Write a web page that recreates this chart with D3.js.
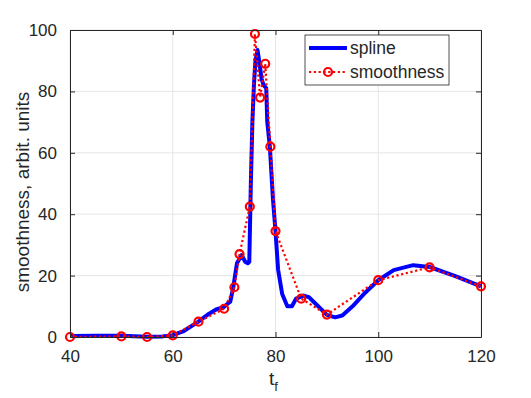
<!DOCTYPE html>
<html><head><meta charset="utf-8">
<script src="https://cdn.jsdelivr.net/npm/d3@7"></script>
<style>body{margin:0;background:#fff}svg{display:block}text{font-family:"Liberation Sans",Arial,sans-serif;fill:#262626}</style>
</head><body>
<script>
// smoothness samples
const tf = [40,50,55,60,65,70,72,73,75,76,77,78,79,80,85,90,100,110,120];
const smooth = [0,0.2,0,0.5,5,9.2,16.2,27,42.5,98.7,78,89,62,34.5,12.5,7.3,18.5,22.7,16.5];
// spline curve
const splineX = [40,45,50,55,58,60,62,65,67,68.6,69.9,70.8,71.2,71.8,72.5,73.4,74.1,74.6,74.9,75.2,75.5,75.8,76.1,76.5,76.9,77.3,77.7,78.2,78.4,78.9,79.5,80,80.5,81.3,82.3,83.2,84,85.5,86.5,88,90,91.6,93,95,97.5,100,103,106.8,110,115,120];
const splineY = [0.3,0.4,0.4,0.1,0.2,0.6,1.8,5,7.5,9.1,9.7,11,11.5,16.4,24,26.7,24.5,24,24.5,50,70,82,90,93.5,89,84,82,81,70,62,45,34.5,22,14,10,10,12.5,13.5,13,10.5,7.2,6.4,7,10,14.5,18.5,21.8,23.4,22.8,19.8,16.5];
const xTicks = [40,60,80,100,120];
const yTicks = [0,20,40,60,80,100];

const W=531,H=398;
const svg=d3.select("body").append("svg").attr("width",W).attr("height",H);
const x=d3.scaleLinear().domain([40,120]).range([70,481]);
const y=d3.scaleLinear().domain([0,100]).range([337,30]);

// grid
svg.append("g").selectAll("line").data(xTicks).join("line")
 .attr("x1",d=>x(d)).attr("x2",d=>x(d)).attr("y1",y(0)).attr("y2",y(100))
 .attr("stroke","#e6e6e6").attr("stroke-width",1);
svg.append("g").selectAll("line").data(yTicks).join("line")
 .attr("y1",d=>y(d)).attr("y2",d=>y(d)).attr("x1",x(40)).attr("x2",x(120))
 .attr("stroke","#e6e6e6").attr("stroke-width",1);

const spl=d3.range(splineX.length).map(i=>[splineX[i],splineY[i]]);
const sm=d3.range(tf.length).map(i=>[tf[i],smooth[i]]);
const line=d3.line().x(d=>x(d[0])).y(d=>y(d[1]));
svg.append("path").datum(spl).attr("d",line).attr("fill","none")
 .attr("stroke","#0000ff").attr("stroke-width",4).attr("stroke-linejoin","round");
svg.append("path").datum(sm).attr("d",line).attr("fill","none")
 .attr("stroke","#ff0000").attr("stroke-width",2.2).attr("stroke-dasharray","2.2,2.6");
svg.append("g").selectAll("circle").data(sm).join("circle")
 .attr("cx",d=>x(d[0])).attr("cy",d=>y(d[1])).attr("r",4)
 .attr("fill","none").attr("stroke","#ff0000").attr("stroke-width",2.2);

// axes
const xa=svg.append("g").attr("transform",`translate(0,${y(0)})`)
 .call(d3.axisBottom(x).tickValues(xTicks).tickSizeInner(-5).tickSizeOuter(0).tickPadding(13));
const xt=svg.append("g").attr("transform",`translate(0,${y(100)})`)
 .call(d3.axisTop(x).tickValues(xTicks).tickSizeInner(-5).tickSizeOuter(0).tickFormat(""));
const ya=svg.append("g").attr("transform",`translate(${x(40)},0)`)
 .call(d3.axisLeft(y).tickValues(yTicks).tickSizeInner(-5).tickSizeOuter(0).tickPadding(13));
const yr=svg.append("g").attr("transform",`translate(${x(120)},0)`)
 .call(d3.axisRight(y).tickValues(yTicks).tickSizeInner(-5).tickSizeOuter(0).tickFormat(""));
[xa,xt,ya,yr].forEach(g=>{g.selectAll("path").attr("stroke","#262626");g.selectAll("line").attr("stroke","#262626");
 g.selectAll("text").attr("font-size",17).attr("font-family","Liberation Sans, Arial, sans-serif").attr("fill","#262626");});

// labels
const xl=svg.append("text").attr("x",269).attr("y",385).attr("text-anchor","start").attr("font-size",19);
xl.append("tspan").text("t");
xl.append("tspan").attr("font-size",13).attr("dy",6).text("f");
svg.append("text").attr("transform",`translate(29,192) rotate(-90)`)
 .attr("text-anchor","middle").attr("font-size",19).text("smoothness, arbit. units");

// legend
const lg=svg.append("g");
lg.append("rect").attr("x",305).attr("y",35).attr("width",144).attr("height",50)
 .attr("fill","#fff").attr("stroke","#262626").attr("stroke-width",0.8);
lg.append("line").attr("x1",309).attr("x2",347).attr("y1",48).attr("y2",48).attr("stroke","#0000ff").attr("stroke-width",4);
lg.append("text").attr("x",350).attr("y",54).attr("font-size",17.5).text("spline");
lg.append("line").attr("x1",309).attr("x2",347).attr("y1",72).attr("y2",72).attr("stroke","#ff0000").attr("stroke-width",2.2).attr("stroke-dasharray","2.2,2.6");
lg.append("circle").attr("cx",328).attr("cy",72).attr("r",4).attr("fill","none").attr("stroke","#ff0000").attr("stroke-width",2.2);
lg.append("text").attr("x",350).attr("y",78).attr("font-size",17.5).text("smoothness");
</script>
</body></html>
